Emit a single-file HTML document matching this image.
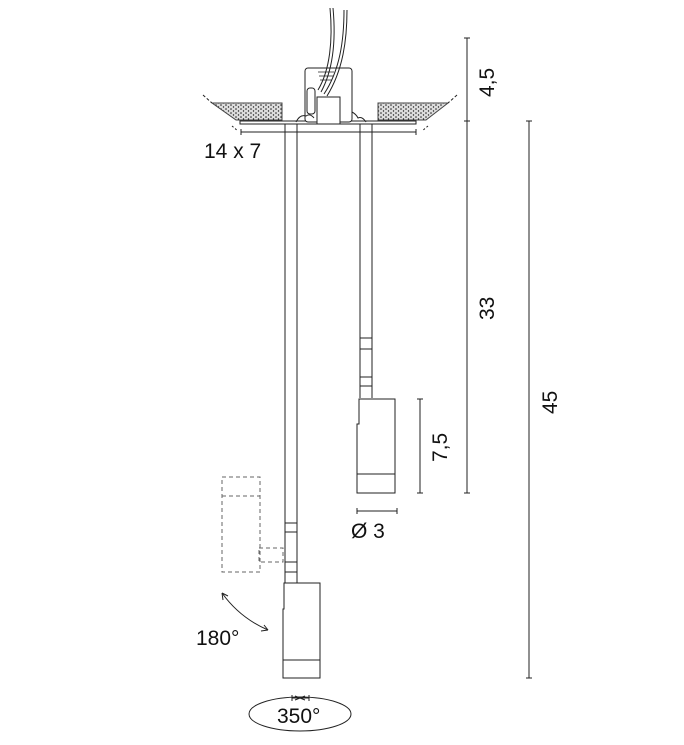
<!DOCTYPE html>
<html><head><style>
body{margin:0;background:#fff}
svg{display:block}
text{font-family:"Liberation Sans",sans-serif;fill:#111}
</style></head><body>
<svg width="684" height="745" viewBox="0 0 684 745">
<defs>
<pattern id="dots" width="5" height="4" patternUnits="userSpaceOnUse">
<rect width="5" height="4" fill="#ddd"/>
<circle cx="1" cy="1" r="0.8" fill="#222"/><circle cx="3.5" cy="3" r="0.7" fill="#222"/>
</pattern>
</defs>
<g stroke="#222" stroke-width="1" fill="none">
<polygon points="212,103 282,103 282,120 236,120" fill="url(#dots)" stroke="#444"/>
<polygon points="378,103 448,103 426,120 378,120" fill="url(#dots)" stroke="#444"/>
<line x1="203" y1="95" x2="212" y2="103" stroke-dasharray="3,2"/>
<line x1="457" y1="95" x2="448" y2="103" stroke-dasharray="3,2"/>
<line x1="232" y1="126" x2="238" y2="131" stroke-dasharray="2,2"/>
<line x1="428" y1="126" x2="422" y2="131" stroke-dasharray="2,2"/>
<rect x="240" y="121" width="176" height="3" fill="#fff"/>
<line x1="241" y1="132" x2="416" y2="132"/>
<line x1="241" y1="129" x2="241" y2="135"/><line x1="416" y1="129" x2="416" y2="135"/>
<rect x="305" y="68" width="47" height="54" rx="3" fill="#fff"/>
<rect x="317" y="97" width="23" height="27" fill="#fff"/>
<rect x="307" y="88" width="8" height="26" rx="3" fill="#fff"/>
<path d="M296,122 q4,-8 10,-6 q4,-3 8,2" />
<path d="M352,112 q4,2 6,6 q4,-2 8,4"/>
<path d="M320,68 l10,0 M318,72 l16,0 M319,76 l14,0 M320,80 l12,0" stroke-width="0.8"/>
<path d="M330,8 C333,40 330,70 318,90"/><path d="M333,8 C336,40 333,70 321,92"/>
<path d="M344,10 C344,40 340,70 324,94"/><path d="M347,10 C347,40 343,70 327,96"/>
<line x1="285" y1="124" x2="285" y2="583"/><line x1="297" y1="124" x2="297" y2="583"/>
<line x1="285" y1="523" x2="297" y2="523"/><line x1="285" y1="532" x2="297" y2="532"/>
<line x1="285" y1="562" x2="297" y2="562"/><line x1="285" y1="572" x2="297" y2="572"/>
<path d="M284,583 L320,583 L320,678 L283,678 L283,609 L284,609 Z" fill="#fff"/>
<line x1="283" y1="660" x2="320" y2="660"/>
<line x1="360" y1="124" x2="360" y2="398"/><line x1="372" y1="124" x2="372" y2="398"/>
<line x1="360" y1="338" x2="372" y2="338"/><line x1="360" y1="349" x2="372" y2="349"/>
<line x1="360" y1="377" x2="372" y2="377"/><line x1="360" y1="386" x2="372" y2="386"/>
<path d="M359,399 L395,399 L395,493 L357,493 L357,424 L359,424 Z" fill="#fff"/>
<line x1="357" y1="474" x2="395" y2="474"/>
<g stroke="#666" stroke-dasharray="4,3">
<rect x="222" y="477" width="38" height="95"/>
<line x1="222" y1="496" x2="260" y2="496"/>
<rect x="259" y="548" width="24" height="14"/>
</g>
<line x1="467" y1="38" x2="467" y2="493"/>
<line x1="464" y1="38" x2="470" y2="38"/><line x1="464" y1="121" x2="470" y2="121"/><line x1="464" y1="493" x2="470" y2="493"/>
<line x1="529" y1="121" x2="529" y2="678"/>
<line x1="526" y1="121" x2="532" y2="121"/><line x1="526" y1="678" x2="532" y2="678"/>
<line x1="420" y1="399" x2="420" y2="493"/>
<line x1="417" y1="399" x2="423" y2="399"/><line x1="417" y1="493" x2="423" y2="493"/>
<line x1="357" y1="511" x2="397" y2="511"/>
<line x1="357" y1="508" x2="357" y2="514"/><line x1="397" y1="508" x2="397" y2="514"/>
<path d="M222,593 Q240,618 268,630"/>
<path d="M222,593 l1,7 M222,593 l6,3 M268,630 l-7,1 M268,630 l-4,-5"/>
<ellipse cx="300" cy="714" rx="51" ry="17"/>
<line x1="292" y1="698" x2="309" y2="698"/>
<path d="M292,695 l0,6 M309,695 l0,6 M300,698 l-5,-2 M300,698 l-5,2 M300,698 l5,-2 M300,698 l5,2"/>
</g>
<text x="204" y="158" font-size="21">14 x 7</text>
<text x="196" y="645" font-size="21">180°</text>
<text x="277" y="723" font-size="21">350°</text>
<text x="351" y="538" font-size="21">Ø  3</text>
<text font-size="21" transform="translate(494,97) rotate(-90)">4,5</text>
<text font-size="21" transform="translate(494,320) rotate(-90)">33</text>
<text font-size="21" transform="translate(557,414) rotate(-90)">45</text>
<text font-size="21" transform="translate(447,462) rotate(-90)">7,5</text>
</svg>
</body></html>
